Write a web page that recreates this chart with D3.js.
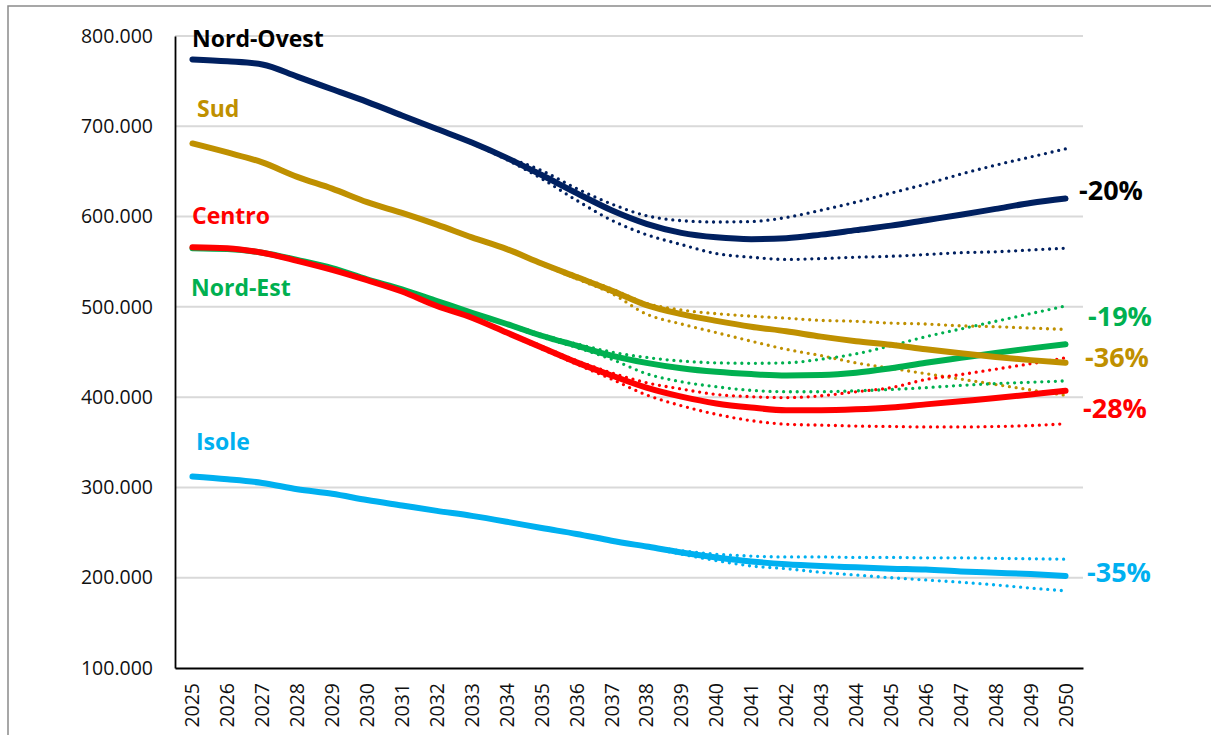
<!DOCTYPE html>
<html>
<head>
<meta charset="utf-8">
<script src="https://cdn.jsdelivr.net/npm/d3@7"></script>
<style>
  body { margin: 0; background: #fff; }
  svg { display: block; }
  .tick-label { font-family: "Open Sans", sans-serif; fill: #111; }
  .series-label { font-family: "Open Sans", sans-serif; font-weight: bold; }
</style>
</head>
<body>
<div id="chart"></div>
<script>
// years on the x axis
const years = d3.range(2025, 2051);

// y axis ticks
const yTicks = [100000, 200000, 300000, 400000, 500000, 600000, 700000, 800000];

// regions (values in thousands)
const regions = ["Nord-Ovest", "Sud", "Centro", "Nord-Est", "Isole"];
const changeLabels = ["-20%", "-36%", "-28%", "-19%", "-35%"];
const colors = ["#002060", "#BF9000", "#FF0000", "#00B050", "#00B0F0"];

const nordOvest = [774, 772, 768.5, 755, 741, 727, 712, 697, 682, 665, 646, 626, 607, 592, 582, 577, 575, 576, 580, 585, 590, 596, 602, 608.5, 615, 620];
const nordOvestHigh = [774, 772, 768.5, 755, 741, 727, 712, 697, 682, 666, 651, 631, 614, 601, 595.5, 594, 594.5, 599, 607, 616, 626, 636, 647, 657, 666, 675];
const nordOvestLow = [774, 772, 768.5, 755, 741, 727, 712, 697, 681, 663, 642, 618, 596, 580, 569, 559, 555, 552.5, 553.5, 555, 556, 558, 560, 561, 563, 565];

const sud = [681, 671, 660, 644, 631, 616, 604, 591, 577, 564, 548, 533, 518, 502, 492, 484.5, 478, 473, 467, 462, 458, 453, 448.5, 444.5, 441, 438];
const sudHigh = [681, 671, 660, 644, 631, 616, 604, 591, 577, 564, 549, 534.5, 520, 504, 496.5, 492.5, 489.7, 487.5, 485, 484, 482, 481, 479, 478, 476.5, 475];
const sudLow = [681, 671, 660, 644, 631, 616, 604, 591, 577, 564, 547, 531, 515, 492, 481, 471.5, 462, 453, 446, 438, 432, 426, 420, 414, 408, 402];

const centro = [566, 565, 560, 551, 541, 529.5, 517, 501, 488, 471.5, 455, 438.5, 424, 410.5, 400.5, 393, 388.5, 385.5, 385.5, 386.5, 388.5, 392, 395.5, 399, 403, 407];
const centroHigh = [566, 565, 560, 551, 541, 529.5, 517, 501, 488, 472.5, 456.5, 440.5, 427, 416, 409, 403, 400.5, 399.5, 401.5, 406, 410.5, 419.5, 425, 431, 437, 443.5];
const centroLow = [566, 565, 560, 551, 541, 529.5, 517, 501, 488, 470.5, 453.5, 436.5, 420, 402.5, 390.5, 381, 374, 370, 369, 368, 367.5, 367, 367, 367.5, 368.5, 370.5];

const nordEst = [565, 564, 560, 552, 543, 530.5, 519.5, 506.5, 493.5, 481, 468, 457, 446, 438, 432, 428, 425.5, 424, 424.5, 427, 432, 438, 443.5, 449, 454, 458.5];
const nordEstHigh = [565, 564, 560, 552, 543, 530.5, 519.5, 506.5, 493.5, 482, 469.5, 459, 450, 444, 440, 438, 437.5, 438, 442, 448, 457, 467, 475.5, 484, 492.5, 501];
const nordEstLow = [565, 564, 560, 552, 543, 530.5, 519.5, 506.5, 493.5, 480, 466.5, 455, 442, 426, 417, 411.5, 407.5, 406, 406, 407, 408.5, 410.5, 413, 415, 416.5, 418];

const isole = [312, 309, 305, 298, 293, 286, 280, 274, 268.5, 262, 255, 248.5, 241, 234.5, 228, 222.5, 218, 215, 213, 211.5, 210, 209, 207, 205.5, 204, 202];
const isoleHigh = [312, 309, 305, 298, 293, 286, 280, 274, 268.5, 262, 255, 248.5, 241, 235, 230, 226, 224, 223, 223, 222.5, 222.5, 222, 222, 221.5, 221, 220.5];
const isoleLow = [312, 309, 305, 298, 293, 286, 280, 274, 268.5, 262, 255, 248.5, 241, 234, 226, 219, 213, 210, 206, 203, 200, 197.5, 195, 192, 188.5, 185.5];

const central = [nordOvest, sud, centro, nordEst, isole];
const highs = [nordOvestHigh, sudHigh, centroHigh, nordEstHigh, isoleHigh];
const lows = [nordOvestLow, sudLow, centroLow, nordEstLow, isoleLow];

// label placement (pixels)
const nameLabelPos = [[192, 47], [197, 117], [192, 224], [191, 296], [196, 450]];
// change labels: offset from the 2050 point
const changeLabelDx = [13.5, 19.5, 17.5, 22.5, 21.5];
const changeLabelDy = [-8, -5, 18, -28, -3];

const W = 1211, H = 735;
const margin = { top: 36, right: 128, bottom: 67, left: 175 };
const width = W - margin.left - margin.right;
const height = H - margin.top - margin.bottom;

const itFormat = d3.formatLocale({ decimal: ",", thousands: ".", grouping: [3], currency: ["€", ""] }).format(",d");

const svg = d3.select("#chart").append("svg")
  .attr("width", W)
  .attr("height", H);

// outer frame
svg.append("rect")
  .attr("x", 8).attr("y", 6)
  .attr("width", W).attr("height", H)
  .attr("fill", "none")
  .attr("stroke", "#8a8a8a")
  .attr("stroke-width", 1.5);

const g = svg.append("g").attr("transform", `translate(${margin.left},${margin.top})`);

const x = d3.scaleBand().domain(years).range([0, width]).padding(0);
const cx = d => x(d) + x.bandwidth() / 2;
const y = d3.scaleLinear().domain([100000, 800000]).range([height, 0]);

// gridlines
g.append("g")
  .selectAll("line")
  .data(yTicks.slice(1))
  .enter()
  .append("line")
  .attr("x1", 0)
  .attr("x2", width)
  .attr("y1", d => y(d))
  .attr("y2", d => y(d))
  .attr("stroke", "#d9d9d9")
  .attr("stroke-width", 2);

// y axis
const yAxis = g.append("g")
  .call(d3.axisLeft(y).tickValues(yTicks).tickSize(0).tickPadding(22).tickFormat(itFormat));
yAxis.select(".domain").attr("stroke", "#000").attr("stroke-width", 1.8);
yAxis.selectAll("text").attr("class", "tick-label").style("font-size", "19.5px");

// x axis
const xAxis = g.append("g")
  .attr("transform", `translate(0,${height})`)
  .call(d3.axisBottom(x).tickSize(0).tickSizeOuter(0));
xAxis.select(".domain").attr("stroke", "#000").attr("stroke-width", 1.8);
xAxis.selectAll("text")
  .attr("class", "tick-label")
  .style("font-size", "19.5px")
  .attr("transform", "rotate(-90)")
  .attr("x", -15)
  .attr("y", 0)
  .attr("dy", "0.36em")
  .style("text-anchor", "end");

const line = d3.line()
  .x((d, i) => cx(years[i]))
  .y(d => y(d * 1000))
  .curve(d3.curveMonotoneX);

// scenario bounds (dotted)
regions.forEach((r, k) => {
  [highs[k], lows[k]].forEach(s => {
    g.append("path")
      .datum(s)
      .attr("d", line)
      .attr("fill", "none")
      .attr("stroke", colors[k])
      .attr("stroke-width", 3.3)
      .attr("stroke-linecap", "round")
      .attr("stroke-dasharray", "0,6.8");
  });
});

// central scenario (solid), drawn back to front
[4, 3, 2, 1, 0].forEach(k => {
  g.append("path")
    .datum(central[k])
    .attr("d", line)
    .attr("fill", "none")
    .attr("stroke", colors[k])
    .attr("stroke-width", 6)
    .attr("stroke-linecap", "round")
    .attr("stroke-linejoin", "round");
});

// region names
regions.forEach((r, k) => {
  svg.append("text")
    .attr("class", "series-label")
    .attr("x", nameLabelPos[k][0])
    .attr("y", nameLabelPos[k][1])
    .style("font-size", "23px")
    .attr("fill", k === 0 ? "#000" : colors[k])
    .text(r);
});

// change 2025-2050
regions.forEach((r, k) => {
  const last = central[k][central[k].length - 1];
  g.append("text")
    .attr("class", "series-label")
    .attr("x", cx(2050) + changeLabelDx[k])
    .attr("y", y(last * 1000) + changeLabelDy[k])
    .attr("dy", "0.35em")
    .style("font-size", "27px")
    .attr("fill", k === 0 ? "#000" : colors[k])
    .text(changeLabels[k]);
});
</script>
</body>
</html>
